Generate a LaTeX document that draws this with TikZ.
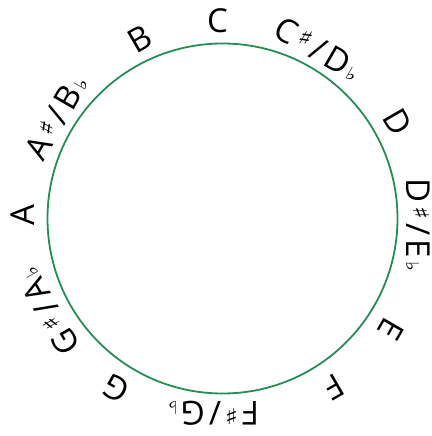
\documentclass[tikz,border=0pt]{standalone}
\usepackage{fontspec}
\usepackage{graphicx}
\setmainfont{Open Sans}
\newfontfamily\symfnt{DejaVu Sans}
\definecolor{ringgreen}{RGB}{40,140,88}
\newcommand\shrp{\kern4pt\raisebox{7pt}{\resizebox{13pt}{16pt}{\symfnt\raisebox{\depth}{♯}}}\kern4pt}
\newcommand\flt{\kern3pt\resizebox{10pt}{13pt}{\symfnt\raisebox{\depth}{♭}}}
\newcommand\slsh{/\kern4pt}
\tikzset{
  lbl/.style={anchor=base, inner sep=0pt, font=\fontsize{33}{33}\selectfont},
  ring/.style={circle, draw=ringgreen, line width=1.8pt, minimum size=350pt, inner sep=0pt}
}
\begin{document}
\begin{tikzpicture}[x=1pt,y=1pt]
\useasboundingbox (-222.5,-217.5) rectangle (208.5,218.5);
\node[ring] (circ) at (0,0) {};
\node[lbl, rotate=0]    (nC)  at (-5,186)        {C};
\node[lbl, rotate=-30]  (nCs) at (89.8,159.5)    {C\shrp\slsh D\flt};
\node[lbl, rotate=-60]  (nD)  at (165.1,90.5)    {D};
\node[lbl, rotate=-90]  (nDs) at (184.2,-6.5)    {D\shrp\slsh E\flt};
\node[lbl, rotate=-120] (nE)  at (158.1,-104.5)  {E};
\node[lbl, rotate=-150] (nF)  at (105.5,-158.5)  {F};
\node[lbl, rotate=180]  (nFs) at (-9,-183)       {F\shrp\slsh G\flt};
\node[lbl, rotate=150]  (nG)  at (-100.5,-159.6) {G};
\node[lbl, rotate=120]  (nGs) at (-164.5,-87.1)  {G\shrp\slsh A\flt};
\node[lbl, rotate=90]   (nA)  at (-188,3.5)      {A};
\node[lbl, rotate=60]   (nAs) at (-155.6,95.6)   {A\shrp\slsh B\flt};
\node[lbl, rotate=30]   (nB)  at (-76.5,169.6)   {B};
\end{tikzpicture}
\end{document}
